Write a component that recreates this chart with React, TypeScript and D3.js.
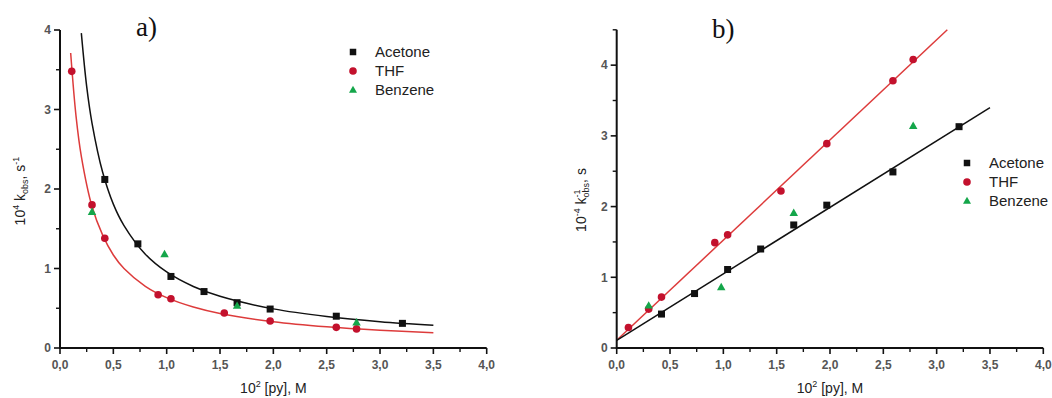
import React from "react";
import * as d3 from "d3";

// ---------- data ----------
// Panel a) k_obs vs [py]
const acetoneA_x = [0.42, 0.73, 1.04, 1.35, 1.66, 1.97, 2.59, 3.21];
const acetoneA_y = [2.12, 1.31, 0.90, 0.71, 0.57, 0.49, 0.40, 0.31];
const thfA_x = [0.11, 0.30, 0.42, 0.92, 1.04, 1.54, 1.97, 2.59, 2.78];
const thfA_y = [3.48, 1.80, 1.38, 0.67, 0.62, 0.44, 0.34, 0.26, 0.24];
const benzeneA_x = [0.30, 0.98, 1.66, 2.78];
const benzeneA_y = [1.71, 1.18, 0.53, 0.32];
// fitted curves in panel a) (points read along the drawn curves)
const acetoneFitA_x = [0.2, 0.25, 0.3, 0.4, 0.5, 0.6, 0.8, 1.0, 1.25, 1.5, 2.0, 2.5, 3.0, 3.5];
const acetoneFitA_y = [3.96, 3.29, 2.83, 2.21, 1.81, 1.54, 1.18, 0.957, 0.774, 0.65, 0.492, 0.396, 0.331, 0.285];
const thfFitA_x = [0.1, 0.15, 0.2, 0.3, 0.4, 0.5, 0.6, 0.8, 1.0, 1.25, 1.5, 2.0, 2.5, 3.0, 3.5];
const thfFitA_y = [3.71, 2.92, 2.41, 1.78, 1.42, 1.17, 1.0, 0.776, 0.633, 0.515, 0.434, 0.33, 0.266, 0.223, 0.192];

// Panel b) 1/k_obs vs [py]
const acetoneB_x = [0.42, 0.73, 1.04, 1.35, 1.66, 1.97, 2.59, 3.21];
const acetoneB_y = [0.48, 0.77, 1.11, 1.40, 1.74, 2.02, 2.49, 3.13];
const thfB_x = [0.11, 0.30, 0.42, 0.92, 1.04, 1.54, 1.97, 2.59, 2.78];
const thfB_y = [0.29, 0.55, 0.72, 1.49, 1.60, 2.22, 2.89, 3.78, 4.08];
const benzeneB_x = [0.30, 0.98, 1.66, 2.78];
const benzeneB_y = [0.60, 0.86, 1.91, 3.14];
const acetoneFitB_x = [0, 3.5];
const acetoneFitB_y = [0.108, 3.40];
const thfFitB_x = [0, 3.1];
const thfFitB_y = [0.11, 4.5];

const seriesNames = ["Acetone", "THF", "Benzene"];
const xTicks = [0, 0.5, 1, 1.5, 2, 2.5, 3, 3.5, 4];
const xMinor = [0.25, 0.75, 1.25, 1.75, 2.25, 2.75, 3.25, 3.75];
const yTicksA = [0, 1, 2, 3, 4];
const yMinorA = [0.5, 1.5, 2.5, 3.5];
const yTicksB = [0, 1, 2, 3, 4];
const yMinorB = [0.5, 1.5, 2.5, 3.5, 4.5];

const BLACK = "#111";
const RED = "#c3112d";
const RED_LINE = "#dd3b3b";
const GREEN = "#14a64a";
const FONT = "'Liberation Sans', Arial, sans-serif";

const fmt = (v: number) => d3.format(".1f")(v).replace(".", ",");
const zip = (xs: number[], ys: number[]) => xs.map((x, i) => [x, ys[i]] as [number, number]);

function Square({ x, y, s = 7, fill = BLACK }: any) {
  return <rect x={x - s / 2} y={y - s / 2} width={s} height={s} fill={fill} />;
}
function Circle({ x, y, r = 3.8, fill = RED }: any) {
  return <circle cx={x} cy={y} r={r} fill={fill} />;
}
function Tri({ x, y, s = 8.5, fill = GREEN }: any) {
  const h = s * 0.87;
  return (
    <path
      d={`M${x},${y - h * 0.6}L${x + s / 2},${y + h * 0.4}L${x - s / 2},${y + h * 0.4}Z`}
      fill={fill}
    />
  );
}

function Panel(props: any) {
  const { x0, x1, y0, y1, yMax, yTicks, yMinor, data, fits, legend, title, ylabel, ylabelPos } = props;
  const xs = d3.scaleLinear().domain([0, 4]).range([x0, x1]);
  const ys = d3.scaleLinear().domain([0, yMax]).range([y0, y1]);
  const line = d3
    .line<[number, number]>()
    .x((d) => xs(d[0]))
    .y((d) => ys(d[1]))
    .curve(d3.curveCatmullRom.alpha(0.5));
  return (
    <g>
      {fits.map((f: any, i: number) => (
        <path key={i} d={line(f.pts) || ""} fill="none" stroke={f.color} strokeWidth={1.5} />
      ))}
      <line x1={x0} x2={x1} y1={y0} y2={y0} stroke={BLACK} strokeWidth={2} />
      <line x1={x0} x2={x0} y1={y0 + 1} y2={y1} stroke={BLACK} strokeWidth={2} />
      {xTicks.map((t) => (
        <g key={"xt" + t}>
          <line x1={xs(t)} x2={xs(t)} y1={y0} y2={y0 + 6} stroke={BLACK} strokeWidth={1.6} />
          <text x={xs(t)} y={y0 + 21} textAnchor="middle" fontSize={12} fontWeight="bold" fill="#555" fontFamily={FONT}>
            {fmt(t)}
          </text>
        </g>
      ))}
      {xMinor.map((t) => (
        <line key={"xm" + t} x1={xs(t)} x2={xs(t)} y1={y0} y2={y0 + 4} stroke={BLACK} strokeWidth={1.4} />
      ))}
      {yTicks.map((t: number) => (
        <g key={"yt" + t}>
          <line x1={x0 - 6} x2={x0} y1={ys(t)} y2={ys(t)} stroke={BLACK} strokeWidth={1.6} />
          <text x={x0 - 9} y={ys(t) + 4.3} textAnchor="end" fontSize={12} fontWeight="bold" fill="#555" fontFamily={FONT}>
            {t}
          </text>
        </g>
      ))}
      {yMinor.map((t: number) => (
        <line key={"ym" + t} x1={x0 - 4} x2={x0} y1={ys(t)} y2={ys(t)} stroke={BLACK} strokeWidth={1.4} />
      ))}
      {zip(data.acetone[0], data.acetone[1]).map((d, i) => (
        <Square key={"a" + i} x={xs(d[0])} y={ys(d[1])} />
      ))}
      {zip(data.thf[0], data.thf[1]).map((d, i) => (
        <Circle key={"t" + i} x={xs(d[0])} y={ys(d[1])} />
      ))}
      {zip(data.benzene[0], data.benzene[1]).map((d, i) => (
        <Tri key={"b" + i} x={xs(d[0])} y={ys(d[1])} />
      ))}
      {seriesNames.map((n, i) => {
        const ly = legend.y + i * 19;
        return (
          <g key={n}>
            {i === 0 && <Square x={legend.x} y={ly} s={6.5} />}
            {i === 1 && <Circle x={legend.x} y={ly} r={3.8} />}
            {i === 2 && <Tri x={legend.x} y={ly} s={8} />}
            <text x={legend.x + 22} y={ly + 5.3} fontSize={15} fill="#222" fontFamily={FONT}>
              {n}
            </text>
          </g>
        );
      })}
      <text x={title.x} y={title.y} fontSize={27} fontFamily="'Liberation Serif', 'Times New Roman', serif" fill="#111">
        {title.text}
      </text>
      <text x={(x0 + x1) / 2} y={393} textAnchor="middle" fontSize={14} fill="#222" fontFamily={FONT}>
        10<tspan fontSize={9} dy={-6}>2</tspan>
        <tspan dy={6}> [py], M</tspan>
      </text>
      <text
        transform={`translate(${ylabelPos[0]},${ylabelPos[1]}) rotate(-90)`}
        textAnchor="middle"
        fontSize={14}
        fill="#222"
        fontFamily={FONT}
      >
        {ylabel}
      </text>
    </g>
  );
}

export default function App() {
  const ylabelA = (
    <>
      10<tspan fontSize={9} dy={-6}>4</tspan>
      <tspan dy={6}> k</tspan>
      <tspan fontSize={9} dy={3}>obs</tspan>
      <tspan dy={-3}>, s</tspan>
      <tspan fontSize={9} dy={-6}>-1</tspan>
    </>
  );
  const ylabelB = (
    <>
      10<tspan fontSize={9} dy={-6}>-4</tspan>
      <tspan dy={6}> k</tspan>
      <tspan fontSize={9} dy={-6}>-1</tspan>
      <tspan fontSize={9} dx={-8} dy={9}>obs</tspan>
      <tspan dy={-3}>, s</tspan>
    </>
  );
  return (
    <svg
      width={1052}
      height={398}
      style={{ position: "absolute", left: 0, top: 0, background: "#fff" }}
    >
      <rect width={1052} height={398} fill="#fff" />
      <Panel
        x0={60}
        x1={486.7}
        y0={348}
        y1={30}
        yMax={4}
        yTicks={yTicksA}
        yMinor={yMinorA}
        data={{
          acetone: [acetoneA_x, acetoneA_y],
          thf: [thfA_x, thfA_y],
          benzene: [benzeneA_x, benzeneA_y],
        }}
        fits={[
          { pts: zip(thfFitA_x, thfFitA_y), color: RED_LINE },
          { pts: zip(acetoneFitA_x, acetoneFitA_y), color: BLACK },
        ]}
        legend={{ x: 353, y: 52 }}
        title={{ x: 136, y: 36, text: "a)" }}
        ylabel={ylabelA}
        ylabelPos={[25, 191]}
      />
      <Panel
        x0={616.7}
        x1={1043.3}
        y0={348}
        y1={29.8}
        yMax={4.5}
        yTicks={yTicksB}
        yMinor={yMinorB}
        data={{
          acetone: [acetoneB_x, acetoneB_y],
          thf: [thfB_x, thfB_y],
          benzene: [benzeneB_x, benzeneB_y],
        }}
        fits={[
          { pts: zip(thfFitB_x, thfFitB_y), color: RED_LINE },
          { pts: zip(acetoneFitB_x, acetoneFitB_y), color: BLACK },
        ]}
        legend={{ x: 967, y: 163 }}
        title={{ x: 712, y: 38, text: "b)" }}
        ylabel={ylabelB}
        ylabelPos={[586, 200]}
      />
    </svg>
  );
}
